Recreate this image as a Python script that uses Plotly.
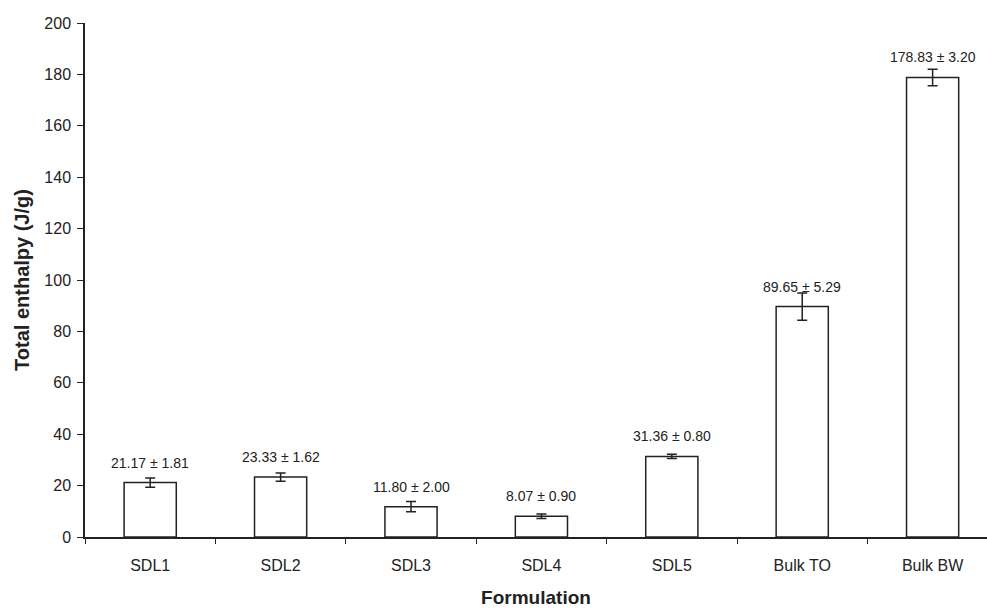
import plotly.graph_objects as go

# Total enthalpy of each formulation (mean ± SD, J/g)
formulations = ["SDL1", "SDL2", "SDL3", "SDL4", "SDL5", "Bulk TO", "Bulk BW"]
enthalpy_mean = [21.17, 23.33, 11.80, 8.07, 31.36, 89.65, 178.83]
enthalpy_sd = [1.81, 1.62, 2.00, 0.90, 0.80, 5.29, 3.20]
y_ticks = [0, 20, 40, 60, 80, 100, 120, 140, 160, 180, 200]

FONT = "Arial, Liberation Sans, Helvetica, sans-serif"
INK = "#222222"

fig = go.Figure()
fig.add_trace(go.Bar(
    x=formulations,
    y=enthalpy_mean,
    width=0.4,
    marker=dict(color="white", line=dict(color=INK, width=1.5)),
    error_y=dict(type="data", array=enthalpy_sd, visible=True,
                 color=INK, thickness=1.5, width=5),
    showlegend=False,
))

# value ± SD labels above each bar
for name, m, s in zip(formulations, enthalpy_mean, enthalpy_sd):
    fig.add_annotation(
        x=name, y=m, text=f"{m:.2f} ± {s:.2f}",
        showarrow=False, yanchor="middle", yshift=20,
        font=dict(family=FONT, size=14, color=INK),
    )

fig.update_layout(
    width=987, height=608,
    margin=dict(l=85, r=0, t=23, b=71),
    paper_bgcolor="white", plot_bgcolor="white",
    font=dict(family=FONT, color=INK),
    xaxis=dict(
        range=[-0.5, 6.417],
        showline=True, linecolor=INK, linewidth=1.5,
        ticks="outside", ticklen=5, tickwidth=1.2, tickcolor=INK,
        tickson="boundaries", ticklabelstandoff=13,
        showgrid=False, zeroline=False,
        tickfont=dict(family=FONT, size=16, color=INK),
        title=dict(text="<b>Formulation</b>",
                   font=dict(family=FONT, size=19, color=INK), standoff=18),
    ),
    yaxis=dict(
        range=[0, 200],
        tickvals=y_ticks,
        showline=True, linecolor=INK, linewidth=1.5,
        ticks="outside", ticklen=6, tickwidth=1.2, tickcolor=INK,
        ticklabelstandoff=3,
        showgrid=False, zeroline=False,
        tickfont=dict(family=FONT, size=16, color=INK),
        title=dict(text="<b>Total enthalpy (J/g)</b>",
                   font=dict(family=FONT, size=20, color=INK), standoff=9),
    ),
)

fig.write_html("out.html")
